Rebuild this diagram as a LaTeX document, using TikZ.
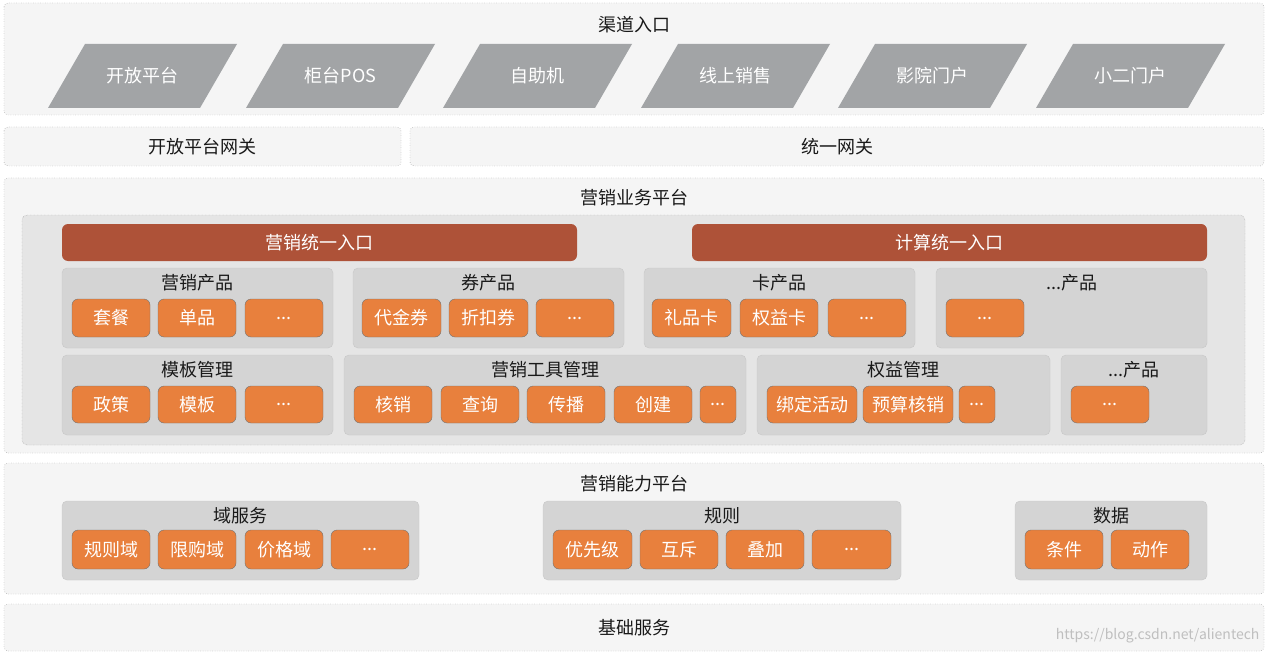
\documentclass[tikz,border=0pt]{standalone}
\usepackage{fontspec}
\setmainfont{Noto Sans CJK SC}
\begin{document}
\begin{tikzpicture}[x=1pt,y=-1pt,
  outer/.style={draw=black!60,dotted,fill=black!4,rounded corners=4pt},
  inner/.style={draw=black!40,densely dotted,fill=black!10,rounded corners=5pt},
  grp/.style={draw=black!22,fill=black!17,rounded corners=5pt},
  ob/.style={draw=black!55,fill=obc,rounded corners=6pt},
  rb/.style={fill=rbc,rounded corners=6pt},
  pg/.style={fill=pgc},
  ttl/.style={font=\fontsize{18}{21}\selectfont,text=black!90},
  wt/.style={font=\fontsize{18}{21}\selectfont,text=white}]
\definecolor{obc}{HTML}{E8803D}
\definecolor{rbc}{HTML}{AE5238}
\definecolor{pgc}{HTML}{A2A4A6}
\useasboundingbox (0,0) rectangle (1268,655);
\fill[white] (0,0) rectangle (1268,655);
\newcommand\ob[5]{\draw[ob] (#1,#2) rectangle (#3,#4); \node[wt] at ({(#1+#3)/2},{(#2+#4)/2}) {#5};}
\newcommand\grpb[5]{\draw[grp] (#1,#2) rectangle (#3,#4); \node[ttl] at ({(#1+#3)/2},{#2+15}) {#5};}
% channels
\draw[outer] (4,3) rectangle (1264,115);
\node[ttl] (t1) at (634,25) {渠道入口};
\foreach \x/\t [count=\i] in {48/开放平台,246/柜台POS,443/自助机,641/线上销售,838/影院门户,1036/小二门户}{
  \fill[pg] (\x,108)--(\x+37,44)--(\x+189,44)--(\x+152,108)--cycle;
  \node[wt] (c\i) at (\x+94.5,76) {\t};}
% gateways
\draw[outer] (4,127) rectangle (401,166); \node[ttl] (g1) at (202,147) {开放平台网关};
\draw[outer] (410,127) rectangle (1264,166); \node[ttl] (g2) at (837,147) {统一网关};
% business platform
\draw[outer] (4,178) rectangle (1264,453);
\node[ttl] (t2) at (634,198) {营销业务平台};
\draw[inner] (22,215) rectangle (1245,445);
\fill[rb] (62,224) rectangle (577,261); \node[wt] at (319.5,242.5) {营销统一入口};
\fill[rb] (692,224) rectangle (1207,261); \node[wt] at (949.5,242.5) {计算统一入口};
\grpb{62}{268}{333}{348}{营销产品}
\ob{72}{299}{150}{337}{套餐}\ob{158}{299}{236}{337}{单品}\ob{245}{299}{323}{337}{...}
\grpb{353}{268}{624}{348}{券产品}
\ob{362}{299}{441}{337}{代金券}\ob{449}{299}{528}{337}{折扣券}\ob{536}{299}{614}{337}{...}
\grpb{644}{268}{915}{348}{卡产品}
\ob{652}{299}{731}{337}{礼品卡}\ob{740}{299}{818}{337}{权益卡}\ob{828}{299}{906}{337}{...}
\grpb{936}{268}{1207}{348}{...产品}
\ob{946}{299}{1024}{337}{...}
\grpb{62}{355}{333}{435}{模板管理}
\ob{72}{386}{150}{423}{政策}\ob{158}{386}{236}{423}{模板}\ob{245}{386}{323}{423}{...}
\grpb{344}{355}{746}{435}{营销工具管理}
\ob{354}{386}{432}{423}{核销}\ob{441}{386}{519}{423}{查询}\ob{527}{386}{605}{423}{传播}\ob{614}{386}{692}{423}{创建}\ob{700}{386}{736}{423}{...}
\grpb{757}{355}{1050}{435}{权益管理}
\ob{767}{386}{857}{423}{绑定活动}\ob{863}{386}{953}{423}{预算核销}\ob{959}{386}{995}{423}{...}
\grpb{1061}{355}{1207}{435}{...产品}
\ob{1071}{386}{1149}{423}{...}
% capability platform
\draw[outer] (4,463) rectangle (1264,594);
\node[ttl] (t3) at (634,484) {营销能力平台};
\grpb{62}{501}{419}{580}{域服务}
\ob{72}{530}{150}{569}{规则域}\ob{158}{530}{236}{569}{限购域}\ob{245}{530}{323}{569}{价格域}\ob{331}{530}{409}{569}{...}
\grpb{543}{501}{901}{580}{规则}
\ob{553}{530}{632}{569}{优先级}\ob{640}{530}{718}{569}{互斥}\ob{726}{530}{804}{569}{叠加}\ob{812}{530}{891}{569}{...}
\grpb{1015}{501}{1207}{580}{数据}
\ob{1025}{530}{1103}{569}{条件}\ob{1111}{530}{1189}{569}{动作}
% base
\draw[outer] (4,604) rectangle (1264,651);
\node[ttl] (t4) at (634,628) {基础服务};
\node[font=\fontsize{14}{16}\selectfont,text=black!25,anchor=east] (wm) at (1263,636) {https://blog.csdn.net/alientech};
\end{tikzpicture}
\end{document}
